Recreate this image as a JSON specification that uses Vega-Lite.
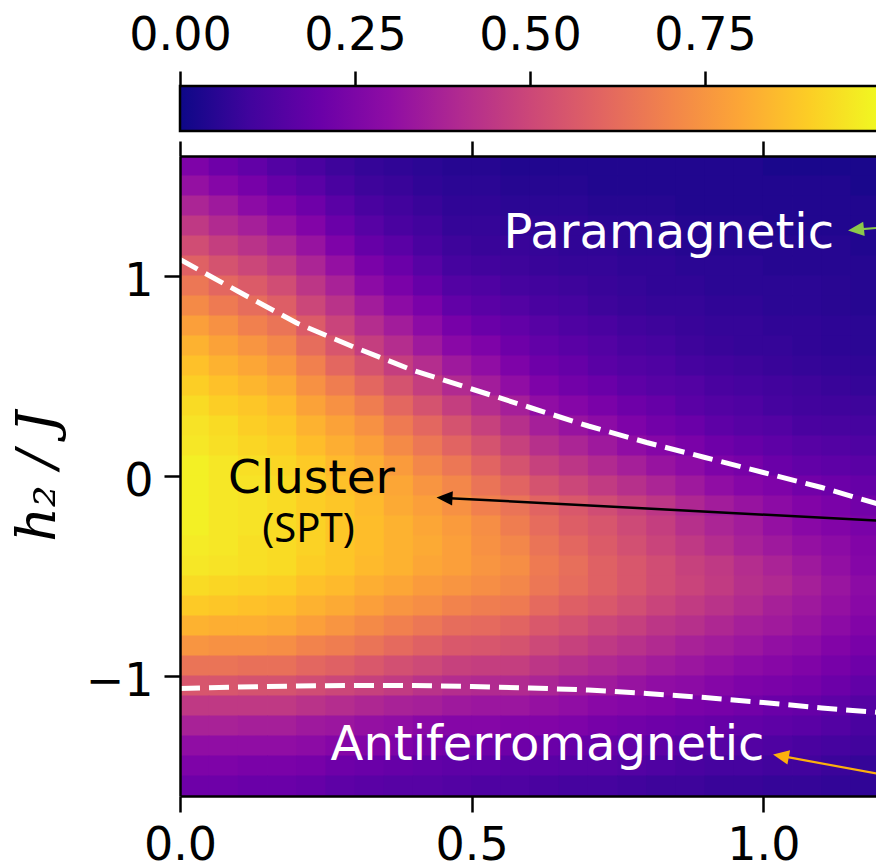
{
"$schema": "https://vega.github.io/schema/vega-lite/v6.json",
"background": "white",
"padding": {"left": 11, "top": 12, "right": 0, "bottom": 0},
"bounds": "flush",
"spacing": 25,
"config": {"view": {"stroke": null}, "font": "DejaVu Sans"},
"datasets": {
"heat": [
{"x":0.025,"y":1.55,"v":0.25},{"x":0.075,"y":1.55,"v":0.21},{"x":0.125,"y":1.55,"v":0.18},{"x":0.175,"y":1.55,"v":0.14},{"x":0.225,"y":1.55,"v":0.12},{"x":0.275,"y":1.55,"v":0.09},{"x":0.325,"y":1.55,"v":0.07},{"x":0.375,"y":1.55,"v":0.06},{"x":0.425,"y":1.55,"v":0.05},{"x":0.475,"y":1.55,"v":0.04},{"x":0.525,"y":1.55,"v":0.04},{"x":0.575,"y":1.55,"v":0.03},{"x":0.625,"y":1.55,"v":0.03},{"x":0.675,"y":1.55,"v":0.03},{"x":0.725,"y":1.55,"v":0.03},{"x":0.775,"y":1.55,"v":0.03},{"x":0.825,"y":1.55,"v":0.03},{"x":0.875,"y":1.55,"v":0.03},{"x":0.925,"y":1.55,"v":0.03},{"x":0.975,"y":1.55,"v":0.03},{"x":1.025,"y":1.55,"v":0.02},{"x":1.075,"y":1.55,"v":0.02},{"x":1.125,"y":1.55,"v":0.02},{"x":1.175,"y":1.55,"v":0.02},
{"x":0.025,"y":1.45,"v":0.31},{"x":0.075,"y":1.45,"v":0.27},{"x":0.125,"y":1.45,"v":0.23},{"x":0.175,"y":1.45,"v":0.19},{"x":0.225,"y":1.45,"v":0.16},{"x":0.275,"y":1.45,"v":0.12},{"x":0.325,"y":1.45,"v":0.09},{"x":0.375,"y":1.45,"v":0.08},{"x":0.425,"y":1.45,"v":0.06},{"x":0.475,"y":1.45,"v":0.05},{"x":0.525,"y":1.45,"v":0.05},{"x":0.575,"y":1.45,"v":0.04},{"x":0.625,"y":1.45,"v":0.04},{"x":0.675,"y":1.45,"v":0.04},{"x":0.725,"y":1.45,"v":0.03},{"x":0.775,"y":1.45,"v":0.03},{"x":0.825,"y":1.45,"v":0.03},{"x":0.875,"y":1.45,"v":0.03},{"x":0.925,"y":1.45,"v":0.03},{"x":0.975,"y":1.45,"v":0.03},{"x":1.025,"y":1.45,"v":0.03},{"x":1.075,"y":1.45,"v":0.03},{"x":1.125,"y":1.45,"v":0.03},{"x":1.175,"y":1.45,"v":0.02},
{"x":0.025,"y":1.35,"v":0.38},{"x":0.075,"y":1.35,"v":0.34},{"x":0.125,"y":1.35,"v":0.29},{"x":0.175,"y":1.35,"v":0.25},{"x":0.225,"y":1.35,"v":0.21},{"x":0.275,"y":1.35,"v":0.16},{"x":0.325,"y":1.35,"v":0.12},{"x":0.375,"y":1.35,"v":0.10},{"x":0.425,"y":1.35,"v":0.08},{"x":0.475,"y":1.35,"v":0.06},{"x":0.525,"y":1.35,"v":0.06},{"x":0.575,"y":1.35,"v":0.05},{"x":0.625,"y":1.35,"v":0.05},{"x":0.675,"y":1.35,"v":0.05},{"x":0.725,"y":1.35,"v":0.04},{"x":0.775,"y":1.35,"v":0.04},{"x":0.825,"y":1.35,"v":0.04},{"x":0.875,"y":1.35,"v":0.03},{"x":0.925,"y":1.35,"v":0.03},{"x":0.975,"y":1.35,"v":0.03},{"x":1.025,"y":1.35,"v":0.03},{"x":1.075,"y":1.35,"v":0.03},{"x":1.125,"y":1.35,"v":0.03},{"x":1.175,"y":1.35,"v":0.03},
{"x":0.025,"y":1.25,"v":0.45},{"x":0.075,"y":1.25,"v":0.40},{"x":0.125,"y":1.25,"v":0.36},{"x":0.175,"y":1.25,"v":0.31},{"x":0.225,"y":1.25,"v":0.26},{"x":0.275,"y":1.25,"v":0.20},{"x":0.325,"y":1.25,"v":0.15},{"x":0.375,"y":1.25,"v":0.12},{"x":0.425,"y":1.25,"v":0.10},{"x":0.475,"y":1.25,"v":0.07},{"x":0.525,"y":1.25,"v":0.07},{"x":0.575,"y":1.25,"v":0.06},{"x":0.625,"y":1.25,"v":0.06},{"x":0.675,"y":1.25,"v":0.06},{"x":0.725,"y":1.25,"v":0.05},{"x":0.775,"y":1.25,"v":0.05},{"x":0.825,"y":1.25,"v":0.05},{"x":0.875,"y":1.25,"v":0.04},{"x":0.925,"y":1.25,"v":0.04},{"x":0.975,"y":1.25,"v":0.04},{"x":1.025,"y":1.25,"v":0.03},{"x":1.075,"y":1.25,"v":0.03},{"x":1.125,"y":1.25,"v":0.03},{"x":1.175,"y":1.25,"v":0.03},
{"x":0.025,"y":1.15,"v":0.52},{"x":0.075,"y":1.15,"v":0.47},{"x":0.125,"y":1.15,"v":0.43},{"x":0.175,"y":1.15,"v":0.38},{"x":0.225,"y":1.15,"v":0.32},{"x":0.275,"y":1.15,"v":0.25},{"x":0.325,"y":1.15,"v":0.19},{"x":0.375,"y":1.15,"v":0.16},{"x":0.425,"y":1.15,"v":0.12},{"x":0.475,"y":1.15,"v":0.09},{"x":0.525,"y":1.15,"v":0.08},{"x":0.575,"y":1.15,"v":0.08},{"x":0.625,"y":1.15,"v":0.07},{"x":0.675,"y":1.15,"v":0.06},{"x":0.725,"y":1.15,"v":0.06},{"x":0.775,"y":1.15,"v":0.05},{"x":0.825,"y":1.15,"v":0.05},{"x":0.875,"y":1.15,"v":0.04},{"x":0.925,"y":1.15,"v":0.04},{"x":0.975,"y":1.15,"v":0.04},{"x":1.025,"y":1.15,"v":0.04},{"x":1.075,"y":1.15,"v":0.04},{"x":1.125,"y":1.15,"v":0.04},{"x":1.175,"y":1.15,"v":0.03},
{"x":0.025,"y":1.05,"v":0.59},{"x":0.075,"y":1.05,"v":0.54},{"x":0.125,"y":1.05,"v":0.50},{"x":0.175,"y":1.05,"v":0.45},{"x":0.225,"y":1.05,"v":0.38},{"x":0.275,"y":1.05,"v":0.31},{"x":0.325,"y":1.05,"v":0.24},{"x":0.375,"y":1.05,"v":0.20},{"x":0.425,"y":1.05,"v":0.15},{"x":0.475,"y":1.05,"v":0.11},{"x":0.525,"y":1.05,"v":0.10},{"x":0.575,"y":1.05,"v":0.09},{"x":0.625,"y":1.05,"v":0.08},{"x":0.675,"y":1.05,"v":0.07},{"x":0.725,"y":1.05,"v":0.07},{"x":0.775,"y":1.05,"v":0.06},{"x":0.825,"y":1.05,"v":0.06},{"x":0.875,"y":1.05,"v":0.05},{"x":0.925,"y":1.05,"v":0.05},{"x":0.975,"y":1.05,"v":0.05},{"x":1.025,"y":1.05,"v":0.04},{"x":1.075,"y":1.05,"v":0.04},{"x":1.125,"y":1.05,"v":0.04},{"x":1.175,"y":1.05,"v":0.04},
{"x":0.025,"y":0.95,"v":0.66},{"x":0.075,"y":0.95,"v":0.61},{"x":0.125,"y":0.95,"v":0.57},{"x":0.175,"y":0.95,"v":0.52},{"x":0.225,"y":0.95,"v":0.44},{"x":0.275,"y":0.95,"v":0.37},{"x":0.325,"y":0.95,"v":0.29},{"x":0.375,"y":0.95,"v":0.24},{"x":0.425,"y":0.95,"v":0.19},{"x":0.475,"y":0.95,"v":0.14},{"x":0.525,"y":0.95,"v":0.13},{"x":0.575,"y":0.95,"v":0.11},{"x":0.625,"y":0.95,"v":0.10},{"x":0.675,"y":0.95,"v":0.09},{"x":0.725,"y":0.95,"v":0.08},{"x":0.775,"y":0.95,"v":0.07},{"x":0.825,"y":0.95,"v":0.06},{"x":0.875,"y":0.95,"v":0.06},{"x":0.925,"y":0.95,"v":0.05},{"x":0.975,"y":0.95,"v":0.05},{"x":1.025,"y":0.95,"v":0.05},{"x":1.075,"y":0.95,"v":0.05},{"x":1.125,"y":0.95,"v":0.045},{"x":1.175,"y":0.95,"v":0.04},
{"x":0.025,"y":0.85,"v":0.72},{"x":0.075,"y":0.85,"v":0.67},{"x":0.125,"y":0.85,"v":0.63},{"x":0.175,"y":0.85,"v":0.58},{"x":0.225,"y":0.85,"v":0.50},{"x":0.275,"y":0.85,"v":0.43},{"x":0.325,"y":0.85,"v":0.35},{"x":0.375,"y":0.85,"v":0.29},{"x":0.425,"y":0.85,"v":0.24},{"x":0.475,"y":0.85,"v":0.18},{"x":0.525,"y":0.85,"v":0.16},{"x":0.575,"y":0.85,"v":0.14},{"x":0.625,"y":0.85,"v":0.12},{"x":0.675,"y":0.85,"v":0.11},{"x":0.725,"y":0.85,"v":0.09},{"x":0.775,"y":0.85,"v":0.08},{"x":0.825,"y":0.85,"v":0.07},{"x":0.875,"y":0.85,"v":0.07},{"x":0.925,"y":0.85,"v":0.06},{"x":0.975,"y":0.85,"v":0.06},{"x":1.025,"y":0.85,"v":0.05},{"x":1.075,"y":0.85,"v":0.05},{"x":1.125,"y":0.85,"v":0.045},{"x":1.175,"y":0.85,"v":0.04},
{"x":0.025,"y":0.75,"v":0.78},{"x":0.075,"y":0.75,"v":0.74},{"x":0.125,"y":0.75,"v":0.69},{"x":0.175,"y":0.75,"v":0.65},{"x":0.225,"y":0.75,"v":0.57},{"x":0.275,"y":0.75,"v":0.49},{"x":0.325,"y":0.75,"v":0.41},{"x":0.375,"y":0.75,"v":0.35},{"x":0.425,"y":0.75,"v":0.29},{"x":0.475,"y":0.75,"v":0.23},{"x":0.525,"y":0.75,"v":0.20},{"x":0.575,"y":0.75,"v":0.18},{"x":0.625,"y":0.75,"v":0.15},{"x":0.675,"y":0.75,"v":0.13},{"x":0.725,"y":0.75,"v":0.12},{"x":0.775,"y":0.75,"v":0.10},{"x":0.825,"y":0.75,"v":0.09},{"x":0.875,"y":0.75,"v":0.08},{"x":0.925,"y":0.75,"v":0.07},{"x":0.975,"y":0.75,"v":0.07},{"x":1.025,"y":0.75,"v":0.06},{"x":1.075,"y":0.75,"v":0.06},{"x":1.125,"y":0.75,"v":0.055},{"x":1.175,"y":0.75,"v":0.05},
{"x":0.025,"y":0.65,"v":0.83},{"x":0.075,"y":0.65,"v":0.79},{"x":0.125,"y":0.65,"v":0.75},{"x":0.175,"y":0.65,"v":0.71},{"x":0.225,"y":0.65,"v":0.63},{"x":0.275,"y":0.65,"v":0.55},{"x":0.325,"y":0.65,"v":0.47},{"x":0.375,"y":0.65,"v":0.41},{"x":0.425,"y":0.65,"v":0.34},{"x":0.475,"y":0.65,"v":0.28},{"x":0.525,"y":0.65,"v":0.25},{"x":0.575,"y":0.65,"v":0.21},{"x":0.625,"y":0.65,"v":0.18},{"x":0.675,"y":0.65,"v":0.16},{"x":0.725,"y":0.65,"v":0.14},{"x":0.775,"y":0.65,"v":0.12},{"x":0.825,"y":0.65,"v":0.11},{"x":0.875,"y":0.65,"v":0.09},{"x":0.925,"y":0.65,"v":0.08},{"x":0.975,"y":0.65,"v":0.07},{"x":1.025,"y":0.65,"v":0.07},{"x":1.075,"y":0.65,"v":0.06},{"x":1.125,"y":0.65,"v":0.055},{"x":1.175,"y":0.65,"v":0.05},
{"x":0.025,"y":0.55,"v":0.87},{"x":0.075,"y":0.55,"v":0.83},{"x":0.125,"y":0.55,"v":0.80},{"x":0.175,"y":0.55,"v":0.76},{"x":0.225,"y":0.55,"v":0.69},{"x":0.275,"y":0.55,"v":0.61},{"x":0.325,"y":0.55,"v":0.54},{"x":0.375,"y":0.55,"v":0.47},{"x":0.425,"y":0.55,"v":0.41},{"x":0.475,"y":0.55,"v":0.34},{"x":0.525,"y":0.55,"v":0.30},{"x":0.575,"y":0.55,"v":0.25},{"x":0.625,"y":0.55,"v":0.21},{"x":0.675,"y":0.55,"v":0.19},{"x":0.725,"y":0.55,"v":0.16},{"x":0.775,"y":0.55,"v":0.14},{"x":0.825,"y":0.55,"v":0.13},{"x":0.875,"y":0.55,"v":0.11},{"x":0.925,"y":0.55,"v":0.10},{"x":0.975,"y":0.55,"v":0.09},{"x":1.025,"y":0.55,"v":0.08},{"x":1.075,"y":0.55,"v":0.07},{"x":1.125,"y":0.55,"v":0.065},{"x":1.175,"y":0.55,"v":0.06},
{"x":0.025,"y":0.45,"v":0.90},{"x":0.075,"y":0.45,"v":0.87},{"x":0.125,"y":0.45,"v":0.84},{"x":0.175,"y":0.45,"v":0.81},{"x":0.225,"y":0.45,"v":0.74},{"x":0.275,"y":0.45,"v":0.68},{"x":0.325,"y":0.45,"v":0.61},{"x":0.375,"y":0.45,"v":0.54},{"x":0.425,"y":0.45,"v":0.47},{"x":0.475,"y":0.45,"v":0.40},{"x":0.525,"y":0.45,"v":0.35},{"x":0.575,"y":0.45,"v":0.30},{"x":0.625,"y":0.45,"v":0.25},{"x":0.675,"y":0.45,"v":0.22},{"x":0.725,"y":0.45,"v":0.20},{"x":0.775,"y":0.45,"v":0.17},{"x":0.825,"y":0.45,"v":0.15},{"x":0.875,"y":0.45,"v":0.14},{"x":0.925,"y":0.45,"v":0.12},{"x":0.975,"y":0.45,"v":0.11},{"x":1.025,"y":0.45,"v":0.10},{"x":1.075,"y":0.45,"v":0.09},{"x":1.125,"y":0.45,"v":0.08},{"x":1.175,"y":0.45,"v":0.07},
{"x":0.025,"y":0.35,"v":0.93},{"x":0.075,"y":0.35,"v":0.90},{"x":0.125,"y":0.35,"v":0.88},{"x":0.175,"y":0.35,"v":0.85},{"x":0.225,"y":0.35,"v":0.79},{"x":0.275,"y":0.35,"v":0.74},{"x":0.325,"y":0.35,"v":0.68},{"x":0.375,"y":0.35,"v":0.61},{"x":0.425,"y":0.35,"v":0.54},{"x":0.475,"y":0.35,"v":0.47},{"x":0.525,"y":0.35,"v":0.41},{"x":0.575,"y":0.35,"v":0.36},{"x":0.625,"y":0.35,"v":0.30},{"x":0.675,"y":0.35,"v":0.27},{"x":0.725,"y":0.35,"v":0.24},{"x":0.775,"y":0.35,"v":0.21},{"x":0.825,"y":0.35,"v":0.19},{"x":0.875,"y":0.35,"v":0.16},{"x":0.925,"y":0.35,"v":0.14},{"x":0.975,"y":0.35,"v":0.13},{"x":1.025,"y":0.35,"v":0.11},{"x":1.075,"y":0.35,"v":0.10},{"x":1.125,"y":0.35,"v":0.095},{"x":1.175,"y":0.35,"v":0.09},
{"x":0.025,"y":0.25,"v":0.95},{"x":0.075,"y":0.25,"v":0.93},{"x":0.125,"y":0.25,"v":0.90},{"x":0.175,"y":0.25,"v":0.88},{"x":0.225,"y":0.25,"v":0.83},{"x":0.275,"y":0.25,"v":0.79},{"x":0.325,"y":0.25,"v":0.74},{"x":0.375,"y":0.25,"v":0.67},{"x":0.425,"y":0.25,"v":0.61},{"x":0.475,"y":0.25,"v":0.54},{"x":0.525,"y":0.25,"v":0.48},{"x":0.575,"y":0.25,"v":0.42},{"x":0.625,"y":0.25,"v":0.36},{"x":0.675,"y":0.25,"v":0.32},{"x":0.725,"y":0.25,"v":0.29},{"x":0.775,"y":0.25,"v":0.25},{"x":0.825,"y":0.25,"v":0.22},{"x":0.875,"y":0.25,"v":0.20},{"x":0.925,"y":0.25,"v":0.17},{"x":0.975,"y":0.25,"v":0.15},{"x":1.025,"y":0.25,"v":0.14},{"x":1.075,"y":0.25,"v":0.12},{"x":1.125,"y":0.25,"v":0.115},{"x":1.175,"y":0.25,"v":0.11},
{"x":0.025,"y":0.15,"v":0.96},{"x":0.075,"y":0.15,"v":0.94},{"x":0.125,"y":0.15,"v":0.92},{"x":0.175,"y":0.15,"v":0.90},{"x":0.225,"y":0.15,"v":0.86},{"x":0.275,"y":0.15,"v":0.82},{"x":0.325,"y":0.15,"v":0.78},{"x":0.375,"y":0.15,"v":0.72},{"x":0.425,"y":0.15,"v":0.66},{"x":0.475,"y":0.15,"v":0.60},{"x":0.525,"y":0.15,"v":0.54},{"x":0.575,"y":0.15,"v":0.48},{"x":0.625,"y":0.15,"v":0.42},{"x":0.675,"y":0.15,"v":0.38},{"x":0.725,"y":0.15,"v":0.34},{"x":0.775,"y":0.15,"v":0.30},{"x":0.825,"y":0.15,"v":0.27},{"x":0.875,"y":0.15,"v":0.24},{"x":0.925,"y":0.15,"v":0.21},{"x":0.975,"y":0.15,"v":0.19},{"x":1.025,"y":0.15,"v":0.17},{"x":1.075,"y":0.15,"v":0.15},{"x":1.125,"y":0.15,"v":0.14},{"x":1.175,"y":0.15,"v":0.13},
{"x":0.025,"y":0.05,"v":0.98},{"x":0.075,"y":0.05,"v":0.96},{"x":0.125,"y":0.05,"v":0.94},{"x":0.175,"y":0.05,"v":0.92},{"x":0.225,"y":0.05,"v":0.89},{"x":0.275,"y":0.05,"v":0.85},{"x":0.325,"y":0.05,"v":0.82},{"x":0.375,"y":0.05,"v":0.77},{"x":0.425,"y":0.05,"v":0.71},{"x":0.475,"y":0.05,"v":0.66},{"x":0.525,"y":0.05,"v":0.60},{"x":0.575,"y":0.05,"v":0.54},{"x":0.625,"y":0.05,"v":0.48},{"x":0.675,"y":0.05,"v":0.44},{"x":0.725,"y":0.05,"v":0.40},{"x":0.775,"y":0.05,"v":0.36},{"x":0.825,"y":0.05,"v":0.32},{"x":0.875,"y":0.05,"v":0.29},{"x":0.925,"y":0.05,"v":0.25},{"x":0.975,"y":0.05,"v":0.23},{"x":1.025,"y":0.05,"v":0.20},{"x":1.075,"y":0.05,"v":0.18},{"x":1.125,"y":0.05,"v":0.17},{"x":1.175,"y":0.05,"v":0.16},
{"x":0.025,"y":-0.05,"v":0.98},{"x":0.075,"y":-0.05,"v":0.96},{"x":0.125,"y":-0.05,"v":0.95},{"x":0.175,"y":-0.05,"v":0.93},{"x":0.225,"y":-0.05,"v":0.90},{"x":0.275,"y":-0.05,"v":0.87},{"x":0.325,"y":-0.05,"v":0.84},{"x":0.375,"y":-0.05,"v":0.80},{"x":0.425,"y":-0.05,"v":0.75},{"x":0.475,"y":-0.05,"v":0.71},{"x":0.525,"y":-0.05,"v":0.65},{"x":0.575,"y":-0.05,"v":0.60},{"x":0.625,"y":-0.05,"v":0.54},{"x":0.675,"y":-0.05,"v":0.50},{"x":0.725,"y":-0.05,"v":0.46},{"x":0.775,"y":-0.05,"v":0.42},{"x":0.825,"y":-0.05,"v":0.38},{"x":0.875,"y":-0.05,"v":0.34},{"x":0.925,"y":-0.05,"v":0.30},{"x":0.975,"y":-0.05,"v":0.27},{"x":1.025,"y":-0.05,"v":0.25},{"x":1.075,"y":-0.05,"v":0.22},{"x":1.125,"y":-0.05,"v":0.205},{"x":1.175,"y":-0.05,"v":0.19},
{"x":0.025,"y":-0.15,"v":0.98},{"x":0.075,"y":-0.15,"v":0.96},{"x":0.125,"y":-0.15,"v":0.95},{"x":0.175,"y":-0.15,"v":0.93},{"x":0.225,"y":-0.15,"v":0.90},{"x":0.275,"y":-0.15,"v":0.88},{"x":0.325,"y":-0.15,"v":0.85},{"x":0.375,"y":-0.15,"v":0.81},{"x":0.425,"y":-0.15,"v":0.78},{"x":0.475,"y":-0.15,"v":0.74},{"x":0.525,"y":-0.15,"v":0.69},{"x":0.575,"y":-0.15,"v":0.65},{"x":0.625,"y":-0.15,"v":0.60},{"x":0.675,"y":-0.15,"v":0.56},{"x":0.725,"y":-0.15,"v":0.52},{"x":0.775,"y":-0.15,"v":0.48},{"x":0.825,"y":-0.15,"v":0.44},{"x":0.875,"y":-0.15,"v":0.39},{"x":0.925,"y":-0.15,"v":0.35},{"x":0.975,"y":-0.15,"v":0.32},{"x":1.025,"y":-0.15,"v":0.29},{"x":1.075,"y":-0.15,"v":0.26},{"x":1.125,"y":-0.15,"v":0.24},{"x":1.175,"y":-0.15,"v":0.22},
{"x":0.025,"y":-0.25,"v":0.98},{"x":0.075,"y":-0.25,"v":0.96},{"x":0.125,"y":-0.25,"v":0.95},{"x":0.175,"y":-0.25,"v":0.93},{"x":0.225,"y":-0.25,"v":0.91},{"x":0.275,"y":-0.25,"v":0.88},{"x":0.325,"y":-0.25,"v":0.86},{"x":0.375,"y":-0.25,"v":0.83},{"x":0.425,"y":-0.25,"v":0.80},{"x":0.475,"y":-0.25,"v":0.77},{"x":0.525,"y":-0.25,"v":0.73},{"x":0.575,"y":-0.25,"v":0.68},{"x":0.625,"y":-0.25,"v":0.625},{"x":0.675,"y":-0.25,"v":0.58},{"x":0.725,"y":-0.25,"v":0.55},{"x":0.775,"y":-0.25,"v":0.51},{"x":0.825,"y":-0.25,"v":0.47},{"x":0.875,"y":-0.25,"v":0.42},{"x":0.925,"y":-0.25,"v":0.38},{"x":0.975,"y":-0.25,"v":0.35},{"x":1.025,"y":-0.25,"v":0.31},{"x":1.075,"y":-0.25,"v":0.28},{"x":1.125,"y":-0.25,"v":0.26},{"x":1.175,"y":-0.25,"v":0.24},
{"x":0.025,"y":-0.35,"v":0.97},{"x":0.075,"y":-0.35,"v":0.96},{"x":0.125,"y":-0.35,"v":0.94},{"x":0.175,"y":-0.35,"v":0.93},{"x":0.225,"y":-0.35,"v":0.91},{"x":0.275,"y":-0.35,"v":0.88},{"x":0.325,"y":-0.35,"v":0.86},{"x":0.375,"y":-0.35,"v":0.83},{"x":0.425,"y":-0.35,"v":0.81},{"x":0.475,"y":-0.35,"v":0.78},{"x":0.525,"y":-0.35,"v":0.74},{"x":0.575,"y":-0.35,"v":0.71},{"x":0.625,"y":-0.35,"v":0.65},{"x":0.675,"y":-0.35,"v":0.61},{"x":0.725,"y":-0.35,"v":0.57},{"x":0.775,"y":-0.35,"v":0.53},{"x":0.825,"y":-0.35,"v":0.49},{"x":0.875,"y":-0.35,"v":0.45},{"x":0.925,"y":-0.35,"v":0.41},{"x":0.975,"y":-0.35,"v":0.37},{"x":1.025,"y":-0.35,"v":0.34},{"x":1.075,"y":-0.35,"v":0.31},{"x":1.125,"y":-0.35,"v":0.29},{"x":1.175,"y":-0.35,"v":0.26},
{"x":0.025,"y":-0.45,"v":0.96},{"x":0.075,"y":-0.45,"v":0.95},{"x":0.125,"y":-0.45,"v":0.94},{"x":0.175,"y":-0.45,"v":0.93},{"x":0.225,"y":-0.45,"v":0.90},{"x":0.275,"y":-0.45,"v":0.88},{"x":0.325,"y":-0.45,"v":0.85},{"x":0.375,"y":-0.45,"v":0.83},{"x":0.425,"y":-0.45,"v":0.80},{"x":0.475,"y":-0.45,"v":0.78},{"x":0.525,"y":-0.45,"v":0.75},{"x":0.575,"y":-0.45,"v":0.73},{"x":0.625,"y":-0.45,"v":0.67},{"x":0.675,"y":-0.45,"v":0.635},{"x":0.725,"y":-0.45,"v":0.59},{"x":0.775,"y":-0.45,"v":0.555},{"x":0.825,"y":-0.45,"v":0.52},{"x":0.875,"y":-0.45,"v":0.48},{"x":0.925,"y":-0.45,"v":0.45},{"x":0.975,"y":-0.45,"v":0.41},{"x":1.025,"y":-0.45,"v":0.375},{"x":1.075,"y":-0.45,"v":0.34},{"x":1.125,"y":-0.45,"v":0.305},{"x":1.175,"y":-0.45,"v":0.27},
{"x":0.025,"y":-0.55,"v":0.93},{"x":0.075,"y":-0.55,"v":0.92},{"x":0.125,"y":-0.55,"v":0.91},{"x":0.175,"y":-0.55,"v":0.90},{"x":0.225,"y":-0.55,"v":0.87},{"x":0.275,"y":-0.55,"v":0.85},{"x":0.325,"y":-0.55,"v":0.82},{"x":0.375,"y":-0.55,"v":0.80},{"x":0.425,"y":-0.55,"v":0.77},{"x":0.475,"y":-0.55,"v":0.75},{"x":0.525,"y":-0.55,"v":0.73},{"x":0.575,"y":-0.55,"v":0.71},{"x":0.625,"y":-0.55,"v":0.66},{"x":0.675,"y":-0.55,"v":0.625},{"x":0.725,"y":-0.55,"v":0.59},{"x":0.775,"y":-0.55,"v":0.555},{"x":0.825,"y":-0.55,"v":0.52},{"x":0.875,"y":-0.55,"v":0.49},{"x":0.925,"y":-0.55,"v":0.46},{"x":0.975,"y":-0.55,"v":0.42},{"x":1.025,"y":-0.55,"v":0.395},{"x":1.075,"y":-0.55,"v":0.36},{"x":1.125,"y":-0.55,"v":0.325},{"x":1.175,"y":-0.55,"v":0.29},
{"x":0.025,"y":-0.65,"v":0.89},{"x":0.075,"y":-0.65,"v":0.88},{"x":0.125,"y":-0.65,"v":0.87},{"x":0.175,"y":-0.65,"v":0.86},{"x":0.225,"y":-0.65,"v":0.83},{"x":0.275,"y":-0.65,"v":0.81},{"x":0.325,"y":-0.65,"v":0.78},{"x":0.375,"y":-0.65,"v":0.75},{"x":0.425,"y":-0.65,"v":0.73},{"x":0.475,"y":-0.65,"v":0.70},{"x":0.525,"y":-0.65,"v":0.68},{"x":0.575,"y":-0.65,"v":0.67},{"x":0.625,"y":-0.65,"v":0.62},{"x":0.675,"y":-0.65,"v":0.585},{"x":0.725,"y":-0.65,"v":0.56},{"x":0.775,"y":-0.65,"v":0.525},{"x":0.825,"y":-0.65,"v":0.49},{"x":0.875,"y":-0.65,"v":0.46},{"x":0.925,"y":-0.65,"v":0.43},{"x":0.975,"y":-0.65,"v":0.40},{"x":1.025,"y":-0.65,"v":0.365},{"x":1.075,"y":-0.65,"v":0.34},{"x":1.125,"y":-0.65,"v":0.31},{"x":1.175,"y":-0.65,"v":0.28},
{"x":0.025,"y":-0.75,"v":0.83},{"x":0.075,"y":-0.75,"v":0.82},{"x":0.125,"y":-0.75,"v":0.82},{"x":0.175,"y":-0.75,"v":0.81},{"x":0.225,"y":-0.75,"v":0.78},{"x":0.275,"y":-0.75,"v":0.75},{"x":0.325,"y":-0.75,"v":0.72},{"x":0.375,"y":-0.75,"v":0.69},{"x":0.425,"y":-0.75,"v":0.66},{"x":0.475,"y":-0.75,"v":0.63},{"x":0.525,"y":-0.75,"v":0.62},{"x":0.575,"y":-0.75,"v":0.60},{"x":0.625,"y":-0.75,"v":0.56},{"x":0.675,"y":-0.75,"v":0.535},{"x":0.725,"y":-0.75,"v":0.50},{"x":0.775,"y":-0.75,"v":0.475},{"x":0.825,"y":-0.75,"v":0.44},{"x":0.875,"y":-0.75,"v":0.42},{"x":0.925,"y":-0.75,"v":0.39},{"x":0.975,"y":-0.75,"v":0.36},{"x":1.025,"y":-0.75,"v":0.345},{"x":1.075,"y":-0.75,"v":0.32},{"x":1.125,"y":-0.75,"v":0.29},{"x":1.175,"y":-0.75,"v":0.26},
{"x":0.025,"y":-0.85,"v":0.75},{"x":0.075,"y":-0.85,"v":0.74},{"x":0.125,"y":-0.85,"v":0.74},{"x":0.175,"y":-0.85,"v":0.73},{"x":0.225,"y":-0.85,"v":0.70},{"x":0.275,"y":-0.85,"v":0.68},{"x":0.325,"y":-0.85,"v":0.65},{"x":0.375,"y":-0.85,"v":0.62},{"x":0.425,"y":-0.85,"v":0.59},{"x":0.475,"y":-0.85,"v":0.56},{"x":0.525,"y":-0.85,"v":0.55},{"x":0.575,"y":-0.85,"v":0.54},{"x":0.625,"y":-0.85,"v":0.505},{"x":0.675,"y":-0.85,"v":0.48},{"x":0.725,"y":-0.85,"v":0.45},{"x":0.775,"y":-0.85,"v":0.425},{"x":0.825,"y":-0.85,"v":0.40},{"x":0.875,"y":-0.85,"v":0.37},{"x":0.925,"y":-0.85,"v":0.35},{"x":0.975,"y":-0.85,"v":0.33},{"x":1.025,"y":-0.85,"v":0.305},{"x":1.075,"y":-0.85,"v":0.29},{"x":1.125,"y":-0.85,"v":0.26},{"x":1.175,"y":-0.85,"v":0.235},
{"x":0.025,"y":-0.95,"v":0.65},{"x":0.075,"y":-0.95,"v":0.65},{"x":0.125,"y":-0.95,"v":0.64},{"x":0.175,"y":-0.95,"v":0.64},{"x":0.225,"y":-0.95,"v":0.61},{"x":0.275,"y":-0.95,"v":0.59},{"x":0.325,"y":-0.95,"v":0.56},{"x":0.375,"y":-0.95,"v":0.53},{"x":0.425,"y":-0.95,"v":0.51},{"x":0.475,"y":-0.95,"v":0.48},{"x":0.525,"y":-0.95,"v":0.47},{"x":0.575,"y":-0.95,"v":0.47},{"x":0.625,"y":-0.95,"v":0.44},{"x":0.675,"y":-0.95,"v":0.42},{"x":0.725,"y":-0.95,"v":0.395},{"x":0.775,"y":-0.95,"v":0.375},{"x":0.825,"y":-0.95,"v":0.35},{"x":0.875,"y":-0.95,"v":0.33},{"x":0.925,"y":-0.95,"v":0.31},{"x":0.975,"y":-0.95,"v":0.29},{"x":1.025,"y":-0.95,"v":0.275},{"x":1.075,"y":-0.95,"v":0.255},{"x":1.125,"y":-0.95,"v":0.23},{"x":1.175,"y":-0.95,"v":0.21},
{"x":0.025,"y":-1.05,"v":0.55},{"x":0.075,"y":-1.05,"v":0.55},{"x":0.125,"y":-1.05,"v":0.54},{"x":0.175,"y":-1.05,"v":0.54},{"x":0.225,"y":-1.05,"v":0.52},{"x":0.275,"y":-1.05,"v":0.50},{"x":0.325,"y":-1.05,"v":0.48},{"x":0.375,"y":-1.05,"v":0.46},{"x":0.425,"y":-1.05,"v":0.43},{"x":0.475,"y":-1.05,"v":0.41},{"x":0.525,"y":-1.05,"v":0.40},{"x":0.575,"y":-1.05,"v":0.40},{"x":0.625,"y":-1.05,"v":0.38},{"x":0.675,"y":-1.05,"v":0.355},{"x":0.725,"y":-1.05,"v":0.345},{"x":0.775,"y":-1.05,"v":0.32},{"x":0.825,"y":-1.05,"v":0.30},{"x":0.875,"y":-1.05,"v":0.29},{"x":0.925,"y":-1.05,"v":0.27},{"x":0.975,"y":-1.05,"v":0.25},{"x":1.025,"y":-1.05,"v":0.24},{"x":1.075,"y":-1.05,"v":0.225},{"x":1.125,"y":-1.05,"v":0.205},{"x":1.175,"y":-1.05,"v":0.18},
{"x":0.025,"y":-1.15,"v":0.45},{"x":0.075,"y":-1.15,"v":0.45},{"x":0.125,"y":-1.15,"v":0.45},{"x":0.175,"y":-1.15,"v":0.45},{"x":0.225,"y":-1.15,"v":0.43},{"x":0.275,"y":-1.15,"v":0.41},{"x":0.325,"y":-1.15,"v":0.39},{"x":0.375,"y":-1.15,"v":0.37},{"x":0.425,"y":-1.15,"v":0.36},{"x":0.475,"y":-1.15,"v":0.34},{"x":0.525,"y":-1.15,"v":0.33},{"x":0.575,"y":-1.15,"v":0.33},{"x":0.625,"y":-1.15,"v":0.315},{"x":0.675,"y":-1.15,"v":0.30},{"x":0.725,"y":-1.15,"v":0.28},{"x":0.775,"y":-1.15,"v":0.27},{"x":0.825,"y":-1.15,"v":0.26},{"x":0.875,"y":-1.15,"v":0.24},{"x":0.925,"y":-1.15,"v":0.23},{"x":0.975,"y":-1.15,"v":0.22},{"x":1.025,"y":-1.15,"v":0.20},{"x":1.075,"y":-1.15,"v":0.19},{"x":1.125,"y":-1.15,"v":0.17},{"x":1.175,"y":-1.15,"v":0.145},
{"x":0.025,"y":-1.25,"v":0.37},{"x":0.075,"y":-1.25,"v":0.37},{"x":0.125,"y":-1.25,"v":0.36},{"x":0.175,"y":-1.25,"v":0.36},{"x":0.225,"y":-1.25,"v":0.34},{"x":0.275,"y":-1.25,"v":0.33},{"x":0.325,"y":-1.25,"v":0.31},{"x":0.375,"y":-1.25,"v":0.30},{"x":0.425,"y":-1.25,"v":0.28},{"x":0.475,"y":-1.25,"v":0.27},{"x":0.525,"y":-1.25,"v":0.27},{"x":0.575,"y":-1.25,"v":0.26},{"x":0.625,"y":-1.25,"v":0.26},{"x":0.675,"y":-1.25,"v":0.25},{"x":0.725,"y":-1.25,"v":0.23},{"x":0.775,"y":-1.25,"v":0.22},{"x":0.825,"y":-1.25,"v":0.21},{"x":0.875,"y":-1.25,"v":0.20},{"x":0.925,"y":-1.25,"v":0.19},{"x":0.975,"y":-1.25,"v":0.18},{"x":1.025,"y":-1.25,"v":0.17},{"x":1.075,"y":-1.25,"v":0.16},{"x":1.125,"y":-1.25,"v":0.14},{"x":1.175,"y":-1.25,"v":0.12},
{"x":0.025,"y":-1.35,"v":0.30},{"x":0.075,"y":-1.35,"v":0.30},{"x":0.125,"y":-1.35,"v":0.30},{"x":0.175,"y":-1.35,"v":0.30},{"x":0.225,"y":-1.35,"v":0.29},{"x":0.275,"y":-1.35,"v":0.27},{"x":0.325,"y":-1.35,"v":0.26},{"x":0.375,"y":-1.35,"v":0.25},{"x":0.425,"y":-1.35,"v":0.23},{"x":0.475,"y":-1.35,"v":0.22},{"x":0.525,"y":-1.35,"v":0.21},{"x":0.575,"y":-1.35,"v":0.21},{"x":0.625,"y":-1.35,"v":0.20},{"x":0.675,"y":-1.35,"v":0.19},{"x":0.725,"y":-1.35,"v":0.19},{"x":0.775,"y":-1.35,"v":0.18},{"x":0.825,"y":-1.35,"v":0.17},{"x":0.875,"y":-1.35,"v":0.16},{"x":0.925,"y":-1.35,"v":0.15},{"x":0.975,"y":-1.35,"v":0.14},{"x":1.025,"y":-1.35,"v":0.13},{"x":1.075,"y":-1.35,"v":0.12},{"x":1.125,"y":-1.35,"v":0.11},{"x":1.175,"y":-1.35,"v":0.10},
{"x":0.025,"y":-1.45,"v":0.25},{"x":0.075,"y":-1.45,"v":0.25},{"x":0.125,"y":-1.45,"v":0.24},{"x":0.175,"y":-1.45,"v":0.24},{"x":0.225,"y":-1.45,"v":0.23},{"x":0.275,"y":-1.45,"v":0.21},{"x":0.325,"y":-1.45,"v":0.20},{"x":0.375,"y":-1.45,"v":0.19},{"x":0.425,"y":-1.45,"v":0.18},{"x":0.475,"y":-1.45,"v":0.17},{"x":0.525,"y":-1.45,"v":0.17},{"x":0.575,"y":-1.45,"v":0.16},{"x":0.625,"y":-1.45,"v":0.16},{"x":0.675,"y":-1.45,"v":0.15},{"x":0.725,"y":-1.45,"v":0.15},{"x":0.775,"y":-1.45,"v":0.14},{"x":0.825,"y":-1.45,"v":0.13},{"x":0.875,"y":-1.45,"v":0.12},{"x":0.925,"y":-1.45,"v":0.11},{"x":0.975,"y":-1.45,"v":0.11},{"x":1.025,"y":-1.45,"v":0.10},{"x":1.075,"y":-1.45,"v":0.10},{"x":1.125,"y":-1.45,"v":0.085},{"x":1.175,"y":-1.45,"v":0.07},
{"x":0.025,"y":-1.55,"v":0.21},{"x":0.075,"y":-1.55,"v":0.21},{"x":0.125,"y":-1.55,"v":0.20},{"x":0.175,"y":-1.55,"v":0.20},{"x":0.225,"y":-1.55,"v":0.19},{"x":0.275,"y":-1.55,"v":0.17},{"x":0.325,"y":-1.55,"v":0.16},{"x":0.375,"y":-1.55,"v":0.15},{"x":0.425,"y":-1.55,"v":0.15},{"x":0.475,"y":-1.55,"v":0.14},{"x":0.525,"y":-1.55,"v":0.13},{"x":0.575,"y":-1.55,"v":0.13},{"x":0.625,"y":-1.55,"v":0.12},{"x":0.675,"y":-1.55,"v":0.11},{"x":0.725,"y":-1.55,"v":0.11},{"x":0.775,"y":-1.55,"v":0.10},{"x":0.825,"y":-1.55,"v":0.09},{"x":0.875,"y":-1.55,"v":0.09},{"x":0.925,"y":-1.55,"v":0.08},{"x":0.975,"y":-1.55,"v":0.08},{"x":1.025,"y":-1.55,"v":0.07},{"x":1.075,"y":-1.55,"v":0.07},{"x":1.125,"y":-1.55,"v":0.065},{"x":1.175,"y":-1.55,"v":0.06}
],
"bounds": [
{"b":"upper","x":0.0,"y":1.0825},{"b":"upper","x":0.1,"y":0.9225},{"b":"upper","x":0.2,"y":0.765},{"b":"upper","x":0.3,"y":0.6425},{"b":"upper","x":0.4,"y":0.5275},{"b":"upper","x":0.5,"y":0.435},{"b":"upper","x":0.6,"y":0.3425},{"b":"upper","x":0.7,"y":0.25},{"b":"upper","x":0.8,"y":0.1675},{"b":"upper","x":0.9,"y":0.0925},{"b":"upper","x":1.0,"y":0.0175},{"b":"upper","x":1.1,"y":-0.0575},{"b":"upper","x":1.2,"y":-0.1425},
{"b":"lower","x":0.0,"y":-1.0625},{"b":"lower","x":0.1,"y":-1.055},{"b":"lower","x":0.2,"y":-1.05},{"b":"lower","x":0.3,"y":-1.0475},{"b":"lower","x":0.4,"y":-1.0475},{"b":"lower","x":0.5,"y":-1.0525},{"b":"lower","x":0.6,"y":-1.06},{"b":"lower","x":0.7,"y":-1.07},{"b":"lower","x":0.8,"y":-1.0875},{"b":"lower","x":0.9,"y":-1.1075},{"b":"lower","x":1.0,"y":-1.1325},{"b":"lower","x":1.1,"y":-1.16},{"b":"lower","x":1.2,"y":-1.1825}
]
},
"vconcat": [
{
"width": 700,
"height": 45,
"data": {"values": [{"lo": 0, "hi": 1}]},
"mark": {"type": "rect", "stroke": "black", "strokeWidth": 2.5, "fill": {"gradient": "linear", "x1": 0, "y1": 0, "x2": 1, "y2": 0, "stops": [
{"offset": 0.0, "color": "#0d0887"},{"offset": 0.1, "color": "#41049d"},{"offset": 0.2, "color": "#6a00a8"},{"offset": 0.3, "color": "#8f0da4"},{"offset": 0.4, "color": "#b12a90"},{"offset": 0.5, "color": "#cc4778"},{"offset": 0.6, "color": "#e16462"},{"offset": 0.7, "color": "#f2844b"},{"offset": 0.8, "color": "#fca636"},{"offset": 0.9, "color": "#fcce25"},{"offset": 1.0, "color": "#f0f921"}]}},
"encoding": {
"x": {"field": "lo", "type": "quantitative", "scale": {"domain": [0, 1], "nice": false, "zero": false},
"axis": {"orient": "top", "values": [0, 0.25, 0.5, 0.75], "format": ".2f", "title": null, "domain": false, "grid": false, "tickSize": 15, "tickWidth": 2.5, "tickColor": "black", "labelFontSize": 46, "labelPadding": 12, "labelColor": "black", "labelFont": "DejaVu Sans", "labelFlush": false, "labelOverlap": false}},
"x2": {"field": "hi"}
}
},
{
"width": 700,
"height": 640,
"resolve": {"axis": {"x": "independent", "y": "independent"}},
"layer": [
{
"data": {"name": "heat"},
"mark": {"type": "rect", "width": 30, "height": 21, "clip": true},
"encoding": {
"x": {"field": "x", "type": "quantitative", "scale": {"domain": [0, 1.2], "nice": false, "zero": false},
"axis": {"values": [0, 0.5, 1.0], "format": ".1f", "title": null, "grid": false, "domainWidth": 2.5, "domainColor": "black", "tickSize": 16, "tickWidth": 2.5, "tickColor": "black", "labelFontSize": 46, "labelPadding": 11, "labelColor": "black", "labelFont": "DejaVu Sans", "labelFlush": false, "labelOverlap": false, "zindex": 1}},
"y": {"field": "y", "type": "quantitative", "scale": {"domain": [-1.6, 1.6], "nice": false, "zero": false},
"axis": {"values": [-1, 0, 1], "format": "d", "title": "h₂ / J", "titleFont": "DejaVu Serif", "titleFontStyle": "italic", "titleFontWeight": "normal", "titleFontSize": 54, "titleColor": "black", "titlePadding": 20, "grid": false, "domainWidth": 2.5, "domainColor": "black", "tickSize": 16, "tickWidth": 2.5, "tickColor": "black", "labelFontSize": 46, "labelPadding": 11, "labelOffset": 5, "labelColor": "black", "labelFont": "DejaVu Sans", "labelFlush": false, "labelOverlap": false, "zindex": 1}},
"color": {"field": "v", "type": "quantitative", "scale": {"scheme": "plasma", "domain": [0, 1]}, "legend": null}
}
},
{
"data": {"name": "bounds"},
"mark": {"type": "line", "color": "white", "strokeWidth": 5, "strokeDash": [20, 9], "clip": true},
"encoding": {
"x": {"field": "x", "type": "quantitative", "scale": {"domain": [0, 1.2], "nice": false, "zero": false},
"axis": {"orient": "top", "values": [0, 0.5, 1.0], "labels": false, "title": null, "grid": false, "domainWidth": 2.5, "domainColor": "black", "tickSize": 15, "tickWidth": 2.5, "tickColor": "black", "zindex": 1}},
"y": {"field": "y", "type": "quantitative", "scale": {"domain": [-1.6, 1.6], "nice": false, "zero": false}, "axis": null},
"detail": {"field": "b"}
}
},
{
"data": {"values": [{"x": 1.2, "y": -0.2235, "x2": 0.4534, "y2": -0.1095}]},
"mark": {"type": "rule", "color": "black", "strokeWidth": 2.5},
"encoding": {
"x": {"field": "x", "type": "quantitative", "scale": {"domain": [0, 1.2], "nice": false, "zero": false}, "axis": null},
"y": {"field": "y", "type": "quantitative", "scale": {"domain": [-1.6, 1.6], "nice": false, "zero": false}, "axis": null},
"x2": {"field": "x2"}, "y2": {"field": "y2"}
}
},
{
"data": {"values": [{"x": 1.2, "y": 1.2418, "x2": 1.1589, "y2": 1.2315}]},
"mark": {"type": "rule", "color": "#8cc84b", "strokeWidth": 2.2},
"encoding": {
"x": {"field": "x", "type": "quantitative", "scale": {"domain": [0, 1.2], "nice": false, "zero": false}, "axis": null},
"y": {"field": "y", "type": "quantitative", "scale": {"domain": [-1.6, 1.6], "nice": false, "zero": false}, "axis": null},
"x2": {"field": "x2"}, "y2": {"field": "y2"}
}
},
{
"data": {"values": [{"x": 1.2, "y": -1.491, "x2": 1.0301, "y2": -1.3995}]},
"mark": {"type": "rule", "color": "#fdb00d", "strokeWidth": 2.2},
"encoding": {
"x": {"field": "x", "type": "quantitative", "scale": {"domain": [0, 1.2], "nice": false, "zero": false}, "axis": null},
"y": {"field": "y", "type": "quantitative", "scale": {"domain": [-1.6, 1.6], "nice": false, "zero": false}, "axis": null},
"x2": {"field": "x2"}, "y2": {"field": "y2"}
}
},
{
"data": {"values": [{"x": 0.4397, "y": -0.1075}]},
"mark": {"type": "point", "shape": "M0,0L2,-0.9L2,0.9Z", "size": 256, "filled": true, "color": "black", "opacity": 1, "strokeWidth": 0, "angle": 3},
"encoding": {
"x": {"field": "x", "type": "quantitative", "scale": {"domain": [0, 1.2], "nice": false, "zero": false}, "axis": null},
"y": {"field": "y", "type": "quantitative", "scale": {"domain": [-1.6, 1.6], "nice": false, "zero": false}, "axis": null}
}
},
{
"data": {"values": [{"x": 1.1452, "y": 1.2275}]},
"mark": {"type": "point", "shape": "M0,0L2,-0.9L2,0.9Z", "size": 256, "filled": true, "color": "#8cc84b", "opacity": 1, "strokeWidth": 0, "angle": -6},
"encoding": {
"x": {"field": "x", "type": "quantitative", "scale": {"domain": [0, 1.2], "nice": false, "zero": false}, "axis": null},
"y": {"field": "y", "type": "quantitative", "scale": {"domain": [-1.6, 1.6], "nice": false, "zero": false}, "axis": null}
}
},
{
"data": {"values": [{"x": 1.0166, "y": -1.3925}]},
"mark": {"type": "point", "shape": "M0,0L2,-0.9L2,0.9Z", "size": 256, "filled": true, "color": "#fdb00d", "opacity": 1, "strokeWidth": 0, "angle": 10.5},
"encoding": {
"x": {"field": "x", "type": "quantitative", "scale": {"domain": [0, 1.2], "nice": false, "zero": false}, "axis": null},
"y": {"field": "y", "type": "quantitative", "scale": {"domain": [-1.6, 1.6], "nice": false, "zero": false}, "axis": null}
}
},
{
"data": {"values": [{"x": 0.838, "y": 1.1425, "t": "Paramagnetic"}]},
"mark": {"type": "text", "fontSize": 48, "color": "white", "align": "center", "baseline": "alphabetic", "font": "DejaVu Sans"},
"encoding": {
"x": {"field": "x", "type": "quantitative", "scale": {"domain": [0, 1.2], "nice": false, "zero": false}, "axis": null},
"y": {"field": "y", "type": "quantitative", "scale": {"domain": [-1.6, 1.6], "nice": false, "zero": false}, "axis": null},
"text": {"field": "t"}
}
},
{
"data": {"values": [{"x": 0.2254, "y": -0.0825, "t": "Cluster"}]},
"mark": {"type": "text", "fontSize": 47, "color": "black", "align": "center", "baseline": "alphabetic", "font": "DejaVu Sans"},
"encoding": {
"x": {"field": "x", "type": "quantitative", "scale": {"domain": [0, 1.2], "nice": false, "zero": false}, "axis": null},
"y": {"field": "y", "type": "quantitative", "scale": {"domain": [-1.6, 1.6], "nice": false, "zero": false}, "axis": null},
"text": {"field": "t"}
}
},
{
"data": {"values": [{"x": 0.2203, "y": -0.331, "t": "(SPT)"}]},
"mark": {"type": "text", "fontSize": 40, "color": "black", "align": "center", "baseline": "alphabetic", "font": "Noto Sans"},
"encoding": {
"x": {"field": "x", "type": "quantitative", "scale": {"domain": [0, 1.2], "nice": false, "zero": false}, "axis": null},
"y": {"field": "y", "type": "quantitative", "scale": {"domain": [-1.6, 1.6], "nice": false, "zero": false}, "axis": null},
"text": {"field": "t"}
}
},
{
"data": {"values": [{"x": 0.63, "y": -1.4175, "t": "Antiferromagnetic"}]},
"mark": {"type": "text", "fontSize": 48, "color": "white", "align": "center", "baseline": "alphabetic", "font": "DejaVu Sans"},
"encoding": {
"x": {"field": "x", "type": "quantitative", "scale": {"domain": [0, 1.2], "nice": false, "zero": false}, "axis": null},
"y": {"field": "y", "type": "quantitative", "scale": {"domain": [-1.6, 1.6], "nice": false, "zero": false}, "axis": null},
"text": {"field": "t"}
}
}
]
}
]
}
